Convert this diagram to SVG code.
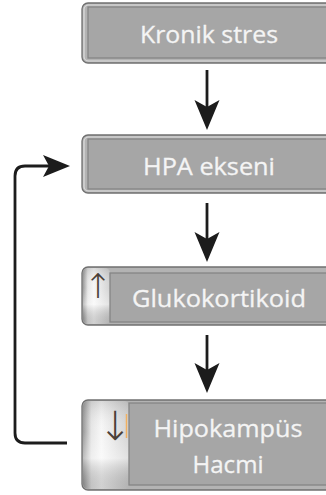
<svg xmlns="http://www.w3.org/2000/svg" width="326" height="495" viewBox="0 0 326 495">
  <style>
    .outer { fill: #b3b3b3; stroke: #707070; stroke-width: 1.3; }
    .hl { fill: none; stroke: #dcdcdc; stroke-width: 1.2; }
    .inner { fill: #a6a6a6; stroke: #858585; stroke-width: 1.3; }
    .lbl { font-family: "Open Sans", "Liberation Sans", sans-serif; font-size: 24px; fill: #f4f4f4; text-anchor: middle; stroke: #f4f4f4; stroke-width: 0.3; }
    .sym { font-family: "DejaVu Sans ExtraLight", "DejaVu Sans", sans-serif; font-weight: 200; fill: #4a4038; text-anchor: middle; }
    .conn { fill: none; stroke: #1c1c1c; stroke-width: 2.8; }
  </style>
  <defs>
    <linearGradient id="panelH" x1="0" y1="0" x2="1" y2="0">
      <stop offset="0" stop-color="#9a9a9a"/>
      <stop offset="0.18" stop-color="#e6e6e6"/>
      <stop offset="0.4" stop-color="#f7f7f7"/>
      <stop offset="1" stop-color="#d2d2d2"/>
    </linearGradient>
    <linearGradient id="panelV" x1="0" y1="0" x2="0" y2="1">
      <stop offset="0" stop-color="#000" stop-opacity="0.12"/>
      <stop offset="0.35" stop-color="#fff" stop-opacity="0"/>
      <stop offset="0.65" stop-color="#fff" stop-opacity="0.35"/>
      <stop offset="1" stop-color="#000" stop-opacity="0.15"/>
    </linearGradient>
    <marker id="head" viewBox="0 -13 31 26" markerWidth="31" markerHeight="26" refX="10" refY="0" orient="auto" markerUnits="userSpaceOnUse">
      <path d="M0,-12.5 L30,0 L0,12.5 L7,0 Z" fill="#1c1c1c"/>
    </marker>
    <marker id="headS" viewBox="0 -12 28 24" markerWidth="28" markerHeight="24" refX="10" refY="0" orient="auto" markerUnits="userSpaceOnUse">
      <path d="M0,-11 L27,0 L0,11 L6,0 Z" fill="#1c1c1c"/>
    </marker>
  </defs>

  <g id="connectors">
    <line class="conn" x1="207" y1="70" x2="207" y2="110" marker-end="url(#head)"/>
    <line class="conn" x1="207" y1="203" x2="207" y2="242" marker-end="url(#head)"/>
    <line class="conn" x1="207" y1="335" x2="207" y2="373" marker-end="url(#head)"/>
    <path class="conn" d="M67,443 H25 Q15,443 15,433 V176 Q15,166 25,166 H53" marker-end="url(#headS)"/>
  </g>

  <g id="node-kronik-stres">
    <rect class="outer" x="82" y="3" width="300" height="60" rx="6"/>
    <rect class="hl" x="84" y="5" width="296" height="56" rx="4.5"/>
    <rect class="inner" x="88" y="7" width="300" height="51"/>
    <text class="lbl" x="209" y="43" textLength="138" lengthAdjust="spacingAndGlyphs">Kronik stres</text>
  </g>

  <g id="node-hpa-ekseni">
    <rect class="outer" x="82" y="135" width="300" height="58" rx="6"/>
    <rect class="hl" x="84" y="137" width="296" height="54" rx="4.5"/>
    <rect class="inner" x="88" y="139" width="300" height="50"/>
    <text class="lbl" x="209" y="175" textLength="132" lengthAdjust="spacingAndGlyphs">HPA ekseni</text>
  </g>

  <g id="node-glukokortikoid">
    <rect class="outer" x="82" y="267" width="300" height="58" rx="6"/>
    <rect x="83" y="268" width="27" height="56" rx="5" fill="url(#panelH)"/>
    <rect x="83" y="268" width="27" height="56" rx="5" fill="url(#panelV)"/>
    <rect class="inner" x="110" y="273" width="300" height="49"/>
    <text class="sym" x="98" y="298" font-size="34">↑</text>
    <text class="lbl" x="219" y="307" textLength="174" lengthAdjust="spacingAndGlyphs">Glukokortikoid</text>
  </g>

  <g id="node-hipokampus-hacmi">
    <rect class="outer" x="82" y="400" width="300" height="90" rx="6"/>
    <rect x="83" y="401" width="46" height="88" rx="5" fill="url(#panelH)"/>
    <rect x="83" y="401" width="46" height="88" rx="5" fill="url(#panelV)"/>
    <rect class="inner" x="129" y="403" width="300" height="82"/>
    <text class="sym" x="115" y="440" font-size="40">↓</text>
    <line x1="126.5" y1="414" x2="126.5" y2="438" stroke="#f0b060" stroke-width="1.5"/>
    <text class="lbl" x="228" y="437" textLength="149" lengthAdjust="spacingAndGlyphs">Hipokampüs</text>
    <text class="lbl" x="228" y="473" textLength="71" lengthAdjust="spacingAndGlyphs">Hacmi</text>
  </g>
</svg>
